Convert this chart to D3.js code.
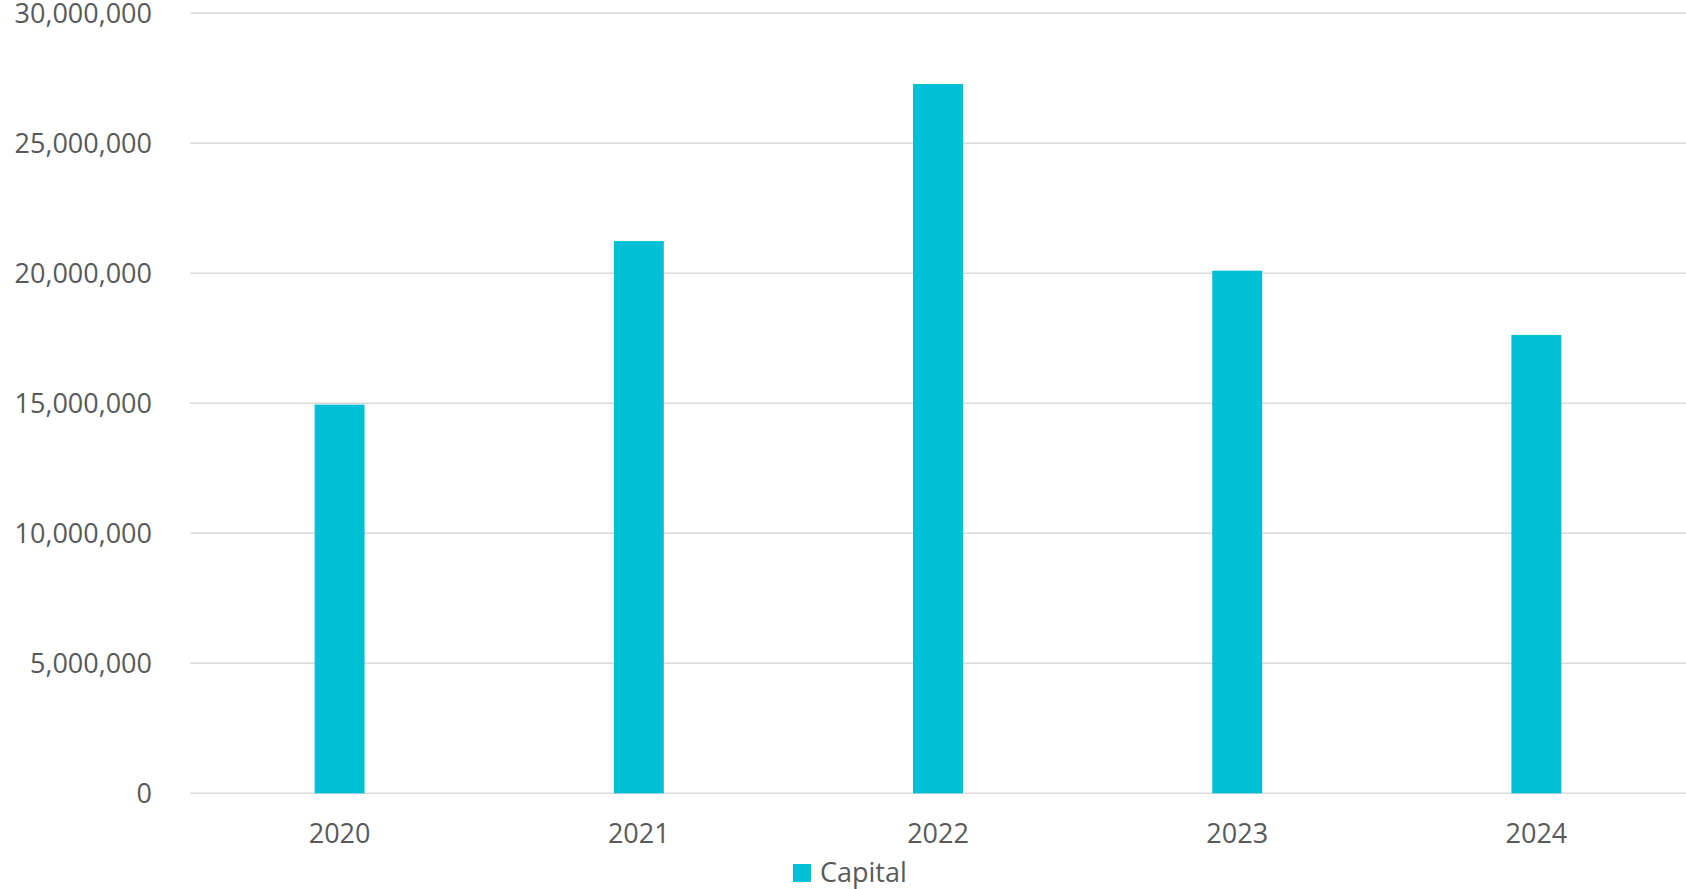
<!DOCTYPE html>
<html>
<head>
<meta charset="utf-8">
<script src="https://cdn.jsdelivr.net/npm/d3@7"></script>
<style>
  html, body { margin: 0; padding: 0; background: #fff; }
  svg { display: block; }
  text { font-family: "Open Sans", "Liberation Sans", sans-serif; fill: #595959; }
</style>
</head>
<body>
<svg id="chart" width="1686" height="889"></svg>
<script>
const categories = ["2020", "2021", "2022", "2023", "2024"];
const capital = [14950000, 21240000, 27280000, 20100000, 17630000];
const yTicks = [0, 5000000, 10000000, 15000000, 20000000, 25000000, 30000000];
const seriesName = "Capital";

const W = 1686, H = 889;
const margin = { left: 190, right: 0, top: 13.3, bottom: H - 793.3 };
const color = "#00BFD6";

const svg = d3.select("#chart");

const x = d3.scaleBand()
  .domain(categories)
  .range([margin.left, W - margin.right])
  .paddingInner(0.833)
  .paddingOuter(0.4165);

const y = d3.scaleLinear()
  .domain([0, 30000000])
  .range([H - margin.bottom, margin.top]);

// gridlines
svg.append("g")
  .selectAll("line")
  .data(yTicks)
  .join("line")
  .attr("x1", margin.left)
  .attr("x2", W - margin.right)
  .attr("y1", d => y(d))
  .attr("y2", d => y(d))
  .attr("stroke", "#d9d9d9")
  .attr("stroke-width", 1.6);

// y axis labels
const yAxis = d3.axisLeft(y)
  .tickValues(yTicks)
  .tickFormat(d3.format(","))
  .tickSize(0)
  .tickPadding(0);
const gy = svg.append("g")
  .attr("transform", `translate(${152},0)`)
  .call(yAxis);
gy.select(".domain").remove();
gy.selectAll("text")
  .style("font-size", "27px")
  .attr("fill", "#595959")
  .attr("dy", "0.35em");

// bars
svg.append("g")
  .selectAll("rect")
  .data(categories)
  .join("rect")
  .attr("x", (d) => x(d))
  .attr("width", x.bandwidth())
  .attr("y", (d, i) => y(capital[i]))
  .attr("height", (d, i) => y(0) - y(capital[i]))
  .attr("fill", color);

// x axis labels
const xAxis = d3.axisBottom(x).tickSize(0).tickPadding(0);
const gx = svg.append("g")
  .attr("transform", `translate(0,${y(0)})`)
  .call(xAxis);
gx.select(".domain").remove();
gx.selectAll("text")
  .style("font-size", "27px")
  .attr("fill", "#595959")
  .attr("y", 40.5)
  .attr("dy", "0.35em");

// legend
const lg = svg.append("g");
lg.append("rect")
  .attr("x", 793)
  .attr("y", 864)
  .attr("width", 18)
  .attr("height", 18)
  .attr("fill", color);
lg.append("text")
  .attr("x", 820)
  .attr("y", 882)
  .style("font-size", "27px")
  .text(seriesName);
</script>
</body>
</html>
